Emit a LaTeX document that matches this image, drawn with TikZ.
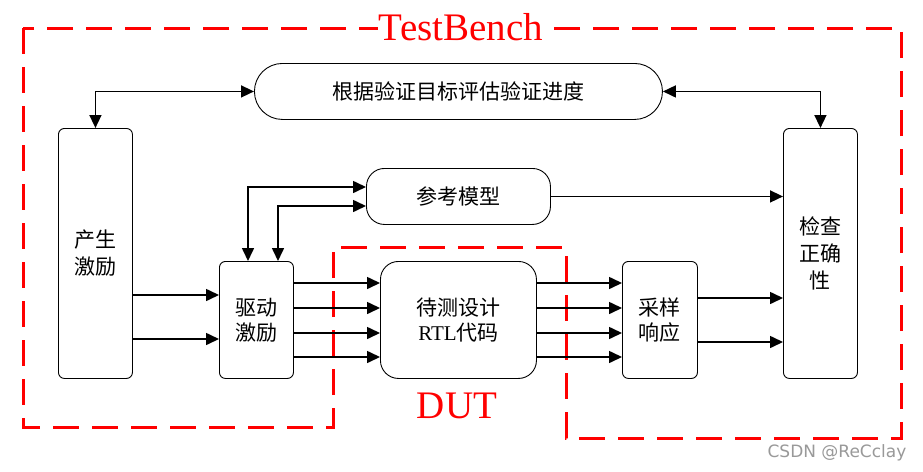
\documentclass[tikz,border=0pt]{standalone}
\usepackage{fontspec}
\setmainfont{Liberation Serif}
\newfontfamily\cjk{Noto Sans CJK SC}
\newfontfamily\wmfont{DejaVu Sans}
\usetikzlibrary{arrows.meta}
\begin{document}
\begin{tikzpicture}[x=1pt,y=-1pt,
  box/.style={draw, line width=0.9pt, inner sep=0pt, anchor=north west, align=center,
    font=\cjk\fontsize{21}{25}\selectfont},
  tallbox/.style={box, font=\cjk\fontsize{21}{27}\selectfont},
  conn/.style={line width=1.6pt, -{Triangle[length=13pt,width=12pt]}},
  both/.style={line width=1.6pt, {Triangle[length=13pt,width=12pt]}-{Triangle[length=13pt,width=12pt]}},
  frame/.style={red, line width=3pt, dash pattern=on 26pt off 13pt},
  redlabel/.style={text=red, anchor=base, inner sep=0pt, font=\fontsize{39}{39}\selectfont}
]
\fill[white] (0,0) rectangle (923,471);
\useasboundingbox (0,0) rectangle (923,471);

% red dashed outline
\draw[frame] (23,28) -- (23,427) -- (333,427) -- (333,247) -- (566,247) -- (566,438) -- (901,438) -- (901,28) -- cycle;
\node[redlabel, fill=white, inner xsep=1pt] (tb) at (461,40) {TestBench};
\node[redlabel] (dutlbl) at (457,418) {DUT};

% nodes
\node[box, minimum width=408pt, minimum height=56pt, rounded corners=27.9pt] (eval) at (254,63) {根据验证目标评估验证进度};
\node[box, minimum width=184pt, minimum height=56pt, rounded corners=18pt] (ref) at (366,168) {参考模型};
\node[tallbox, minimum width=74pt, minimum height=250pt, rounded corners=6pt] (gen) at (58,128) {产生\\激励};
\node[tallbox, minimum width=74pt, minimum height=250pt, rounded corners=6pt] (chk) at (783,128) {检查\\正确\\性};
\node[box, minimum width=74pt, minimum height=117pt, rounded corners=6pt] (drv) at (219,261) {驱动\\激励};
\node[box, minimum width=156pt, minimum height=117pt, rounded corners=18pt] (dut) at (380,261) {待测设计\\{\rmfamily RTL}代码};
\node[box, minimum width=75pt, minimum height=117pt, rounded corners=6pt] (smp) at (622,261) {采样\\响应};

% connectors
\draw[both] (eval.west) -| (gen.north);
\draw[both] (eval.east) -| (chk.north);
\draw[both] (drv.north -| 248,0) |- (ref.west |- 0,187);
\draw[both] (drv.north -| 278,0) |- (ref.west |- 0,206);
\draw[conn] (ref.east) -- (ref.east -| chk.west);
\foreach \yy in {295,339} \draw[conn] (gen.east |- 0,\yy) -- (drv.west |- 0,\yy);
\foreach \yy in {283,308,333,357} {
  \draw[conn] (drv.east |- 0,\yy) -- (dut.west |- 0,\yy);
  \draw[conn] (dut.east |- 0,\yy) -- (smp.west |- 0,\yy);
}
\foreach \yy in {298,342} \draw[conn] (smp.east |- 0,\yy) -- (chk.west |- 0,\yy);

% watermark
\node[text=black!40, anchor=base, inner sep=0pt, font=\wmfont\fontsize{17}{17}\selectfont] (wm) at (837,457) {CSDN @ReCclay};
\end{tikzpicture}
\end{document}
